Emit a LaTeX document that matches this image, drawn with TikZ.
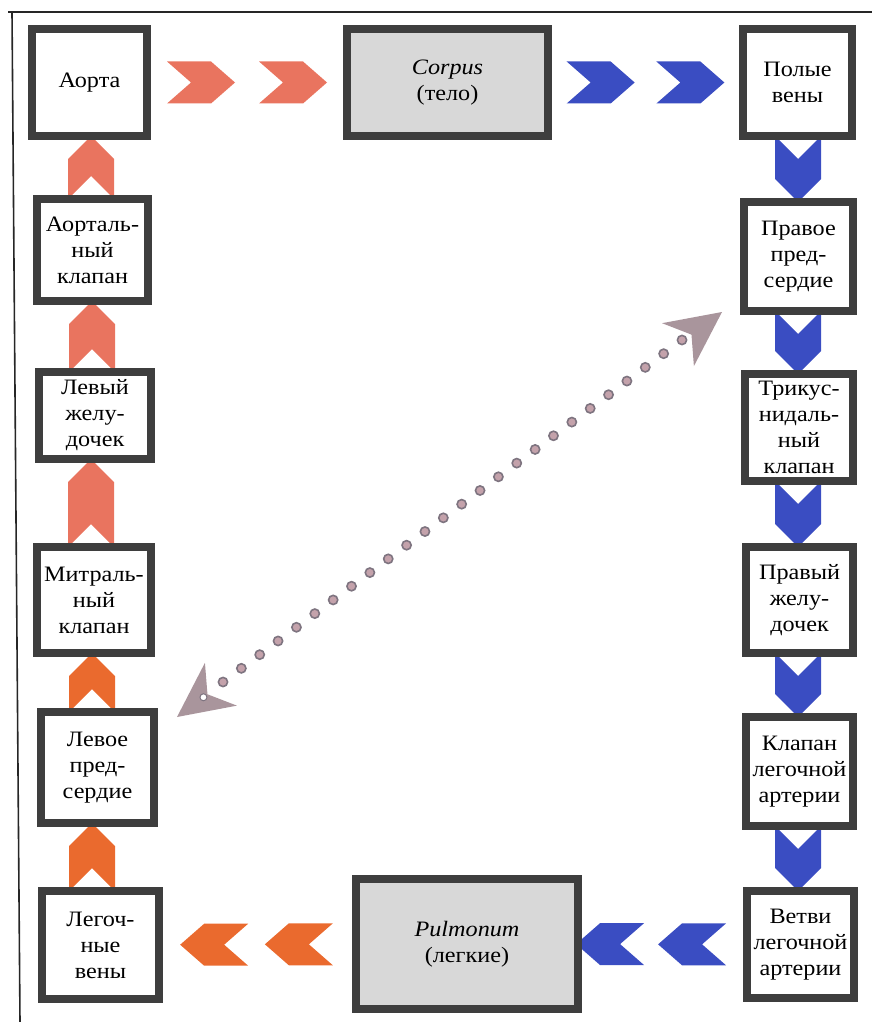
\documentclass[tikz,border=0pt]{standalone}
\usepackage{fontspec}
\setmainfont{Liberation Serif}[FakeStretch=1.1]
\usetikzlibrary{calc,backgrounds}

\definecolor{boxline}{HTML}{3E3E3E}
\definecolor{boxgray}{HTML}{D8D8D8}
\definecolor{artsalmon}{HTML}{E9745F}
\definecolor{artorange}{HTML}{EA6A2E}
\definecolor{venblue}{HTML}{3A4DC2}
\definecolor{dotfill}{HTML}{C4A2AB}
\definecolor{dotline}{HTML}{7E7480}
\definecolor{headfill}{HTML}{A9959C}

% horizontal chevron, centred on the origin, pointing right
\newcommand\hchev[1]{\fill[#1] (-34,21) -- (10,21) -- (34,0) -- (10,-21) -- (-34,-21) -- (-10,0) -- cycle;}
% vertical chevron filling the gap between two boxes: #2 column x, #3 back anchor, #4 tip anchor
\newcommand\downchev[4]{\fill[#1] let \p1=(#3), \p2=(#4) in
  ({(#2-23)*1pt},\y1) -- ({#2*1pt},{\y1-23pt}) -- ({(#2+23)*1pt},\y1) --
  ({(#2+23)*1pt},{\y2+23pt}) -- ({#2*1pt},\y2) -- ({(#2-23)*1pt},{\y2+23pt}) -- cycle;}
\newcommand\upchev[4]{\fill[#1] let \p1=(#3), \p2=(#4) in
  ({(#2-23)*1pt},\y1) -- ({#2*1pt},{\y1+23pt}) -- ({(#2+23)*1pt},\y1) --
  ({(#2+23)*1pt},{\y2-23pt}) -- ({#2*1pt},\y2) -- ({(#2-23)*1pt},{\y2-23pt}) -- cycle;}

\begin{document}
\begin{tikzpicture}[x=1pt,y=1pt,
  organ/.style={draw=boxline, line width=8pt, fill=white, align=center,
    inner sep=0pt, outer sep=0pt, font=\fontsize{22}{26}\selectfont},
  region/.style={organ, fill=boxgray},
  dotmark/.style={fill=dotfill, draw=dotline, line width=1.6pt},
  framerule/.style={line width=1.6pt, black!85}]

\useasboundingbox (0,0) rectangle (872,-1022);

% frame rules
\draw[framerule] (8,-12) -- (872,-12);
\draw[framerule] (12,-12) -- (20,-1022);

% top row
\node[organ, minimum width=115, minimum height=107] (aorta) at (89.5,-82.5) {Аорта};
\node[region, minimum width=201, minimum height=107] (corpus) at (447.5,-82.5) {\textit{Corpus}\\(тело)};
\node[organ, minimum width=109, minimum height=107] (venae) at (797.5,-82.5) {Полые\\вены};

% right column
\node[organ, minimum width=109, minimum height=109] (ra) at (798.5,-256.5) {Правое\\пред-\\сердие};
\node[organ, minimum width=108, minimum height=107] (tv) at (799,-427.5) {Трикус-\\нидаль-\\ный\\клапан};
\node[organ, minimum width=107, minimum height=106] (rv) at (799.5,-600) {Правый\\желу-\\дочек};
\node[organ, minimum width=107, minimum height=109] (pv) at (799.5,-771.5) {Клапан\\легочной\\артерии};
\node[organ, minimum width=107, minimum height=107] (pa) at (800.5,-944.5) {Ветви\\легочной\\артерии};

% bottom row
\node[region, minimum width=222, minimum height=130] (pulm) at (467,-944) {\textit{Pulmonum}\\(легкие)};
\node[organ, minimum width=117, minimum height=108] (pvein) at (100.5,-945) {Легоч-\\ные\\вены};

% left column
\node[organ, minimum width=113, minimum height=111] (la) at (97.5,-767.5) {Левое\\пред-\\сердие};
\node[organ, minimum width=114, minimum height=106] (mv) at (94,-600) {Митраль-\\ный\\клапан};
\node[organ, minimum width=112, minimum height=87] (lv) at (95,-415.5) {Левый\\желу-\\дочек};
\node[organ, minimum width=111, minimum height=102] (av) at (92.5,-250) {Аорталь-\\ный\\клапан};

% flow chevrons, tucked under the boxes
\begin{scope}[on background layer]
  \hchev{artsalmon, shift={($(aorta.east)!0.27!(corpus.west)$)}}
  \hchev{artsalmon, shift={($(aorta.east)!0.73!(corpus.west)$)}}
  \hchev{venblue, shift={($(corpus.east)!0.27!(venae.west)$)}}
  \hchev{venblue, shift={($(corpus.east)!0.73!(venae.west)$)}}

  \downchev{venblue}{798}{venae.south}{ra.north}
  \downchev{venblue}{798}{ra.south}{tv.north}
  \downchev{venblue}{798}{tv.south}{rv.north}
  \downchev{venblue}{798}{rv.south}{pv.north}
  \downchev{venblue}{798}{pv.south}{pa.north}

  \hchev{venblue, shift={($(pulm.east)!0.19!(pa.west)$)}, rotate=180}
  \hchev{venblue, shift={($(pulm.east)!0.675!(pa.west)$)}, rotate=180}
  \hchev{artorange, shift={($(pvein.east)!0.28!(pulm.west)$)}, rotate=180}
  \hchev{artorange, shift={($(pvein.east)!0.71!(pulm.west)$)}, rotate=180}

  \upchev{artorange}{92}{pvein.north}{la.south}
  \upchev{artorange}{92}{la.north}{mv.south}
  \upchev{artsalmon}{91}{mv.north}{lv.south}
  \upchev{artsalmon}{92}{lv.north}{av.south}
  \upchev{artsalmon}{91}{av.north}{aorta.south}
\end{scope}

% dotted double arrow across the middle
\coordinate (dotS) at (223,-682);
\coordinate (dotE) at (682,-340);
\coordinate (tipSW) at (177,-717);
\coordinate (tipNE) at (722,-312);
\fill[headfill] (tipNE) -- ($(tipNE)!61pt!26:(dotS)$) -- ($(tipNE)!38pt!(dotS)$)
  -- ($(tipNE)!61pt!-26:(dotS)$) -- cycle;
\fill[headfill] (tipSW) -- ($(tipSW)!61pt!26:(dotE)$) -- ($(tipSW)!38pt!(dotE)$)
  -- ($(tipSW)!61pt!-26:(dotE)$) -- cycle;
\foreach \i in {0,...,25}
  \filldraw[dotmark] ($(dotS)!\i/25!(dotE)$) circle (4.6);
\filldraw[fill=white, draw=dotline, line width=1pt] ($(tipSW)!33pt!(dotE)$) circle (3.5);

\end{tikzpicture}
\end{document}
